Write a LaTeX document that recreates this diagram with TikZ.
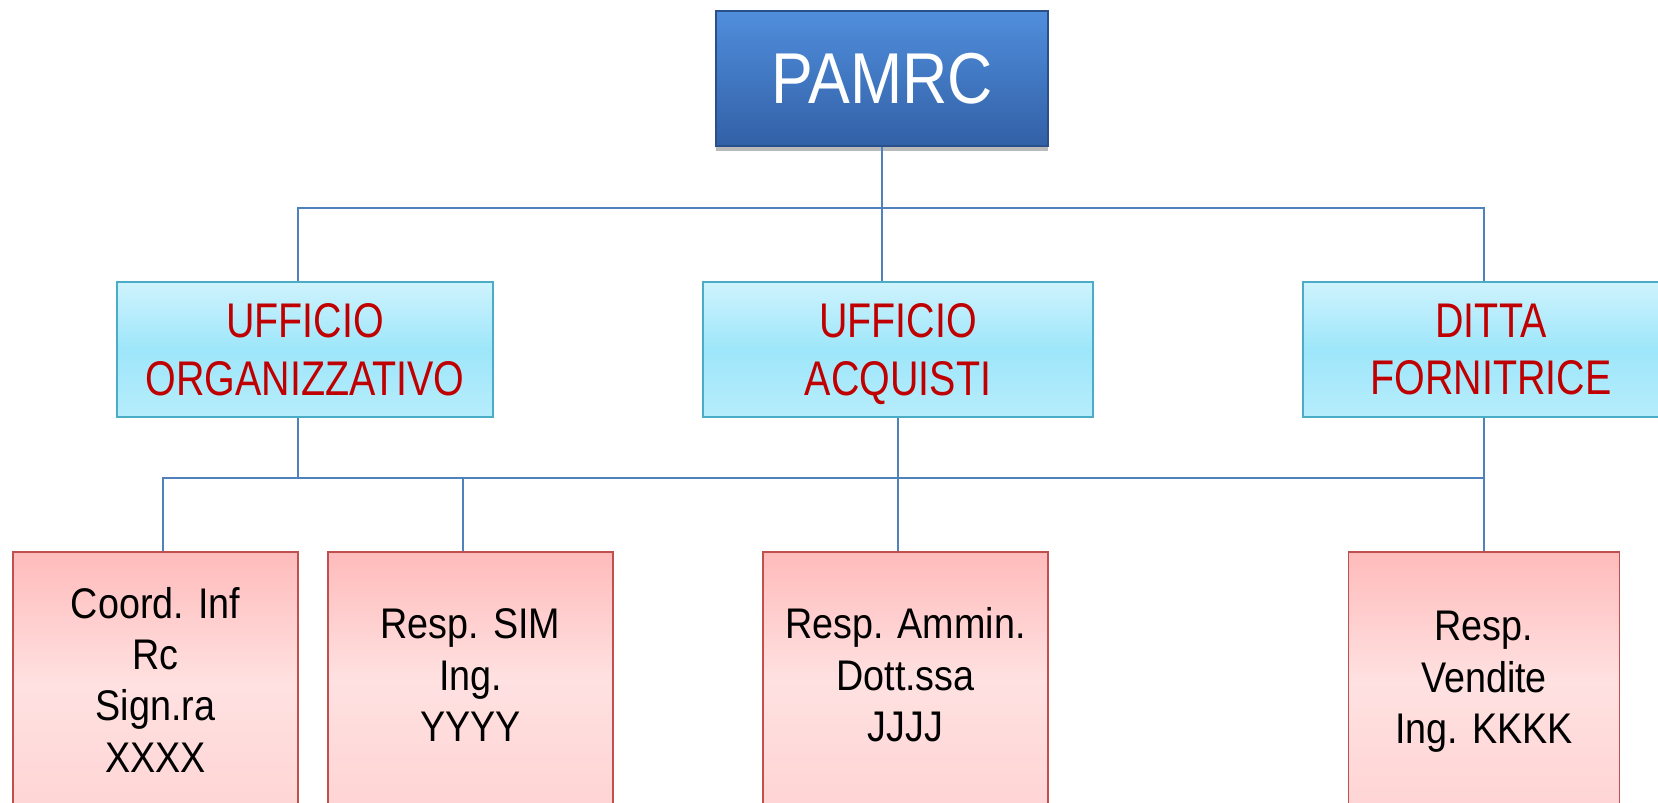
\documentclass[tikz,border=0pt]{standalone}
\usepackage{fontspec}
\setmainfont{Liberation Sans}[FakeStretch=0.81]
\newfontfamily\headfont{Liberation Sans}[FakeStretch=0.87]
\newfontfamily\persfont{Liberation Sans}[FakeStretch=0.88]
\usepackage{tikz}
\usetikzlibrary{calc,shapes,positioning,shadows}
\definecolor{linkblue}{RGB}{79,129,189}
\definecolor{headtop}{RGB}{80,142,220}
\definecolor{headbot}{RGB}{50,96,166}
\definecolor{headline}{RGB}{42,80,140}
\definecolor{offtop}{RGB}{206,243,253}
\definecolor{offmid}{RGB}{158,230,250}
\definecolor{offbot}{RGB}{182,237,252}
\definecolor{offline}{RGB}{75,172,198}
\definecolor{offtext}{RGB}{192,0,0}
\definecolor{perstop}{RGB}{255,187,187}
\definecolor{persmid}{RGB}{255,225,225}
\definecolor{persbot}{RGB}{255,212,212}
\definecolor{persline}{RGB}{192,80,77}
\newcommand{\nodepth}[1]{\raisebox{0pt}[\height][0pt]{#1}}

\begin{document}
\begin{tikzpicture}[x=0.02cm, y=-0.02cm]
  \useasboundingbox (0,0) rectangle (1658,803);

    \tikzstyle{hnode} = [draw=headline, line width=1pt, top color=headtop, bottom color=headbot, rectangle, minimum width=6.64cm, minimum height=2.7cm, inner sep=0pt, text=white, font=\fontsize{41}{46}\selectfont\headfont, drop shadow={shadow xshift=0pt, shadow yshift=-3pt, opacity=0.45, fill=black!60}]
    \tikzstyle{unode} = [draw=offline, line width=1.2pt, top color=offtop, bottom color=offbot, middle color=offmid, rectangle, minimum width=7.52cm, minimum height=2.7cm, inner sep=0pt, align=center, text=offtext, font=\fontsize{27.7}{33}\selectfont]
    \tikzstyle{pnode} = [draw=persline, line width=1pt, top color=perstop, bottom color=persbot, middle color=persmid, rectangle, minimum width=5.7cm, minimum height=5.12cm, inner sep=0pt, align=center, text=black, font=\fontsize{24.4}{29.2}\selectfont\persfont]
    \tikzstyle{link} = [draw=linkblue, line width=1.2pt]

    \node[hnode] (pamrc) at (882,78.5) {PAMRC};

    \node[unode] (org) at (305,349.5) {UFFICIO\\ORGANIZZATIVO};
    \node[unode, minimum width=7.8cm] (acq) at (898,349.5) {UFFICIO\\\nodepth{ACQUISTI}};
    \node[unode] (ditta) at (1491,349.5) {DITTA\\FORNITRICE};

    \node[pnode, minimum height=5.32cm] (coord) at (155.5,685) {\strut Coord. Inf\\Rc\\Sign.ra\\XXXX\strut};
    \node[pnode] (sim) at (470.5,680) {\strut Resp. SIM\\Ing.\\YYYY\strut};
    \node[pnode] (amm) at (905.5,680) {\strut Resp. Ammin.\\Dott.ssa\\JJJJ\strut};
    \node[pnode, minimum width=5.42cm, minimum height=5.2cm] (vend) at (1484,682) {\strut Resp.\\Vendite\\Ing. KKKK\strut};

    \coordinate (bus1l) at (298,208);
    \coordinate (bus1r) at (1484,208);
    \coordinate (bus2l) at (163,478);
    \coordinate (bus2r) at (1484,478);
    \coordinate (simtap) at (463,478);

    % top level
    \draw[link] (pamrc.south) -- (acq.north -| pamrc.south);
    \draw[link] (bus1l |- org.north) -- (bus1l) -- (bus1r) -- (bus1r |- ditta.north);
    % lower level
    \draw[link] (org.south -| bus1l) -- (bus1l |- bus2l);
    \draw[link] (bus2l |- coord.north) -- (bus2l) -- (bus2r);
    \draw[link] (simtap) -- (simtap |- sim.north);
    \draw[link] (acq.south) -- (acq.south |- amm.north);
    \draw[link] (ditta.south -| bus2r) -- (vend.north);

  \end{tikzpicture}
\end{document}
